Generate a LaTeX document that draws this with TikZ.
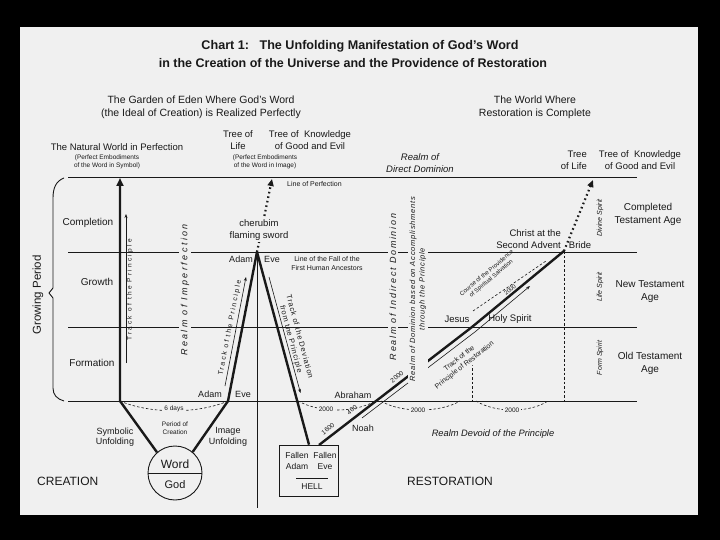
\documentclass[tikz,border=0pt]{standalone}
\usepackage{fontspec}
\setmainfont{Liberation Sans}
\usetikzlibrary{arrows.meta}
\definecolor{bg}{RGB}{240,240,240}
\definecolor{ink}{RGB}{25,25,25}
\newcommand{\fz}[2]{\fontsize{#1pt}{#2pt}\selectfont}
\newcommand{\lsp}[1]{\addfontfeature{LetterSpace=#1}}
\begin{document}
\begin{tikzpicture}[x=1pt,y=-1pt,
  every node/.style={inner sep=0pt, text=ink, align=center},
  hl/.style={draw=ink, line width=0.9pt},
  heavy/.style={draw=ink, line width=2.4pt, line join=round},
  fine/.style={draw=ink, line width=0.6pt},
  dashy/.style={draw=ink, line width=0.6pt, dash pattern=on 2.5pt off 2pt},
  dotarr/.style={draw=ink, line width=2.2pt, dash pattern=on 1.6pt off 3pt, -{Triangle[length=7pt,width=6pt]}},
  bgf/.style={fill=bg, inner sep=1.5pt}]
\useasboundingbox (0,0) rectangle (720,540);
\fill[black] (0,0) rectangle (720,540);
\fill[bg] (20,27) rectangle (698,515);

% key points
\coordinate (P1) at (68,177); \coordinate (P2) at (637,177);
\coordinate (C1) at (68,252); \coordinate (C2) at (637,252);
\coordinate (G1) at (68,327); \coordinate (G2) at (637,327);
\coordinate (F1) at (68,401); \coordinate (F2) at (637,401);
\coordinate (apex) at (257,252);
\coordinate (vL) at (228,401);
\coordinate (sL) at (120,401);
\coordinate (sTop) at (120,178);
\coordinate (cbot) at (257,508);
\coordinate (cherTop) at (272,179);
\coordinate (rs) at (319,445);
\coordinate (jesus) at (472,327);
\coordinate (christ) at (564,251);
\coordinate (brideTop) at (593,180);
\coordinate (jesusLow) at (472,350);
\coordinate (christLow) at (564,401);
\coordinate (jesusBase) at (472,401);

% horizontal level lines
\draw[hl] (P1) -- (P2);
\draw[hl] (C1) -- (C2);
\draw[hl] (G1) -- (G2);
\draw[hl] (F1) -- (F2);

% growing period brace
\draw[hl] (64,178) .. controls (56,181) and (53,188) .. (53,198) -- (53,288) -- (49,293) -- (53,298) -- (53,388) .. controls (53,395) and (57,399) .. (64,401);

% Word / God circle and HELL box
\node[circle, draw=ink, line width=0.9pt, minimum size=54pt] (wg) at (175,473) {};
\draw[hl] (wg.west) -- (wg.east);
\node[draw=ink, line width=0.7pt, minimum width=59pt, minimum height=51pt] (hell) at (309,470.5) {};
\coordinate (hl1) at (296,478); \coordinate (hl2) at (328,478);
\draw[fine] (hl1) -- (hl2);

% creation V and verticals
\draw[heavy, -{Triangle[length=8pt,width=7pt]}] (wg.131) -- (sL) -- (sTop);
\draw[heavy] (wg.50) -- (vL) -- (apex) -- (hell.north);
\draw[hl] (apex) -- (cbot);
\coordinate (ta1) at (126,363); \coordinate (ta2) at (126,214);
\draw[fine, -{Stealth[length=4pt,width=3pt]}] (ta1) -- (ta2);

% thin tracks along legs
\coordinate (tpa1) at (225,386); \coordinate (tpa2) at (246,277);
\draw[fine, -{Stealth[length=4pt,width=3pt]}] (tpa1) -- (tpa2);
\coordinate (tda1) at (269,277); \coordinate (tda2) at (300.5,393);
\draw[fine, -{Stealth[length=4pt,width=3pt]}] (tda1) -- (tda2);

% dotted arrows
\draw[dotarr] (apex) -- (cherTop);
\draw[dotarr] (christ) -- (brideTop);

% restoration line and tracks
\draw[heavy] (rs) -- (jesus) -- (christ);
\coordinate (tr1) at (362,418); \coordinate (tr2) at (475.5,331.5); \coordinate (tr3) at (530,286);
\draw[fine, -{Stealth[length=4pt,width=3pt]}] (tr1) -- (tr2) -- (tr3);
\coordinate (cp1) at (473,311); \coordinate (cp2) at (546,261);
\draw[dashy] (cp1) -- (cp2);
\draw[dashy] (jesusLow) -- (jesusBase);
\draw[dashy] (christ) -- (christLow);

% dashed period arcs
\coordinate (a1) at (298,401); \coordinate (a2) at (375,401);
\coordinate (b1) at (381,401); \coordinate (b2) at (460,401);
\coordinate (c1) at (476,401); \coordinate (c2) at (548,401);
\draw[dashy] (sL) .. controls (150,414) and (198,414) .. (vL);
\draw[dashy] (a1) .. controls (320,413) and (355,413) .. (a2);
\draw[dashy] (b1) .. controls (400,413) and (440,413) .. (b2);
\draw[dashy] (c1) .. controls (495,413) and (530,413) .. (c2);

% ---------- texts ----------
\node[font=\bfseries\fz{12.6}{14}] (t1) at (360,46) {Chart 1:\ \ \ The Unfolding Manifestation of God's Word};
\node[font=\bfseries\fz{12.5}{14}] (t2) at (353,63) {in the Creation of the Universe and the Providence of Restoration};

\node[font=\fz{10.5}{13}] (g1) at (201,107.5) {The Garden of Eden Where God's Word\\(the Ideal of Creation) is Realized Perfectly};
\node[font=\fz{10.5}{13}] (w1) at (535,107.5) {The World Where\\Restoration is Complete};

\node[font=\fz{9.5}{12}] (tol) at (238,140) {Tree of\\Life};
\node[font=\fz{9.5}{12}] (tok) at (310,140) {Tree of\ \ Knowledge\\of Good and Evil};
\node[font=\fz{9.5}{12}] (nw) at (117,147) {The Natural World in Perfection};
\node[font=\fz{6.5}{8.5}] (pe1) at (107,162) {(Perfect Embodiments\\of the Word in Symbol)};
\node[font=\fz{6.5}{8.5}] (pe2) at (265,162) {(Perfect Embodiments\\of the Word in Image)};
\node[font=\itshape\fz{9.5}{12}] (rdd) at (420,163) {Realm of\\Direct Dominion};
\node[font=\fz{9.5}{12}, anchor=east, align=right] (tol2) at (587,160) {Tree\\of Life};
\node[font=\fz{9.5}{12}] (tok2) at (640,160) {Tree of\ \ Knowledge\\of Good and Evil};
\node[font=\fz{7}{8}, anchor=west] (lop) at (287,184) {Line of Perfection};

\node[font=\fz{10}{12}] (comp) at (88,223) {Completion};
\node[font=\fz{10}{12}] (grow) at (97,282) {Growth};
\node[font=\fz{10}{12}] (form) at (92,363) {Formation};
\node[font=\fz{11.5}{13}, rotate=90] (gp) at (38,295) {Growing Period};

\node[font=\fz{6.5}{8}\lsp{35}, rotate=90] (tp) at (130,290) {Track of the Principle};
\node[font=\itshape\fz{9}{11}\lsp{27}, rotate=90, bgf] (rim) at (185,290) {Realm of Imperfection};
\node[font=\itshape\fz{9}{11}\lsp{19}, rotate=90, bgf] (rid) at (393,287) {Realm of Indirect Dominion};
\node[font=\itshape\fz{7.5}{9.5}\lsp{10}, rotate=90, bgf] (rdb) at (418,289) {Realm of Dominion based on Accomplishments\\through the Principle};

\node[font=\itshape\fz{7}{8}, rotate=90] (dsp) at (600,218) {Divine Spirit};
\node[font=\itshape\fz{7}{8}, rotate=90] (lsp) at (600,287) {Life Spirit};
\node[font=\itshape\fz{7}{8}, rotate=90] (fsp) at (600,358) {Form Spirit};
\node[font=\fz{10}{13}] (cta) at (648,214) {Completed\\Testament Age};
\node[font=\fz{10}{13}] (nta) at (650,292) {New Testament\\Age};
\node[font=\fz{10}{13}] (ota) at (650,363) {Old Testament\\Age};

\node[font=\fz{9}{11}] (ad1) at (241,259) {Adam};
\node[font=\fz{9}{11}] (ev1) at (272,259) {Eve};
\node[font=\fz{9}{11}] (ad2) at (210,394) {Adam};
\node[font=\fz{9}{11}] (ev2) at (243,394) {Eve};
\node[font=\fz{9.5}{11.5}, bgf] (ch) at (259,230) {cherubim\\flaming sword};
\node[font=\fz{7}{8.5}] (lf) at (327,263.5) {Line of the Fall of the\\First Human Ancestors};
\node[font=\fz{7}{8.5}\lsp{25}, rotate=79] (tpl) at (230,328) {Track of the Principle};
\node[font=\fz{7.5}{9}\lsp{10}, rotate=-75] (tdv) at (295,338) {Track of the Deviation\\from the Principle};

\node[font=\fz{6.5}{8}, bgf] (sixd) at (174,409) {6 days};
\node[font=\fz{6.5}{8}] (poc) at (175,428) {Period of\\Creation};
\node[font=\fz{9}{10.5}] (su) at (115,437) {Symbolic\\Unfolding};
\node[font=\fz{9}{10.5}] (iu) at (228,437) {Image\\Unfolding};
\node[font=\fz{12}{14}] (wd) at (175,464) {Word};
\node[font=\fz{11}{13}] (gd) at (175,485) {God};
\node[font=\fz{12}{14}, anchor=west] (cr) at (37,481) {CREATION};

\node[font=\fz{8.5}{11}] (fa) at (297,461) {Fallen\\Adam};
\node[font=\fz{8.5}{11}] (fe) at (325,461) {Fallen\\Eve};
\node[font=\fz{8.5}{10}] (hll) at (312,487) {HELL};

\node[font=\fz{6.5}{8}, rotate=38] (l1600) at (328,429) {1600};
\node[font=\fz{6.5}{8}, rotate=38] (l400) at (352,410) {400};
\node[font=\fz{6.5}{8}, rotate=38, bgf] (l2000a) at (397,377) {2000};
\node[font=\fz{6}{7}, rotate=40] (l2000b) at (510,290) {2000};
\node[font=\fz{6.5}{8}, bgf] (d1) at (326,409) {2000};
\node[font=\fz{6.5}{8}, bgf] (d2) at (418,410) {2000};
\node[font=\fz{6.5}{8}, bgf] (d3) at (512,410) {2000};
\node[font=\fz{9}{11}] (abr) at (353,395) {Abraham};
\node[font=\fz{9}{11}] (noah) at (363,428) {Noah};
\node[font=\fz{9.5}{11}] (jes) at (457,319) {Jesus};
\node[font=\fz{9.5}{11}] (hs) at (510,319) {Holy Spirit};
\node[font=\fz{9.5}{12}, anchor=east, align=right] (cas) at (561,239) {Christ at the\\Second Advent};
\node[font=\fz{9.5}{11}] (br) at (580,245) {Bride};
\node[font=\fz{7}{8.5}, rotate=38, bgf] (tpr) at (462,362) {Track of the\\Principle of Restoration};
\node[font=\fz{6}{7}, rotate=40] (cps) at (489,276) {Course of the Providence\\of Spiritual Salvation};

\node[font=\itshape\fz{9.3}{11}] (rdp) at (493,434) {Realm Devoid of the Principle};
\node[font=\fz{12}{14}, anchor=west] (rest) at (407,481) {RESTORATION};
\end{tikzpicture}
\end{document}
